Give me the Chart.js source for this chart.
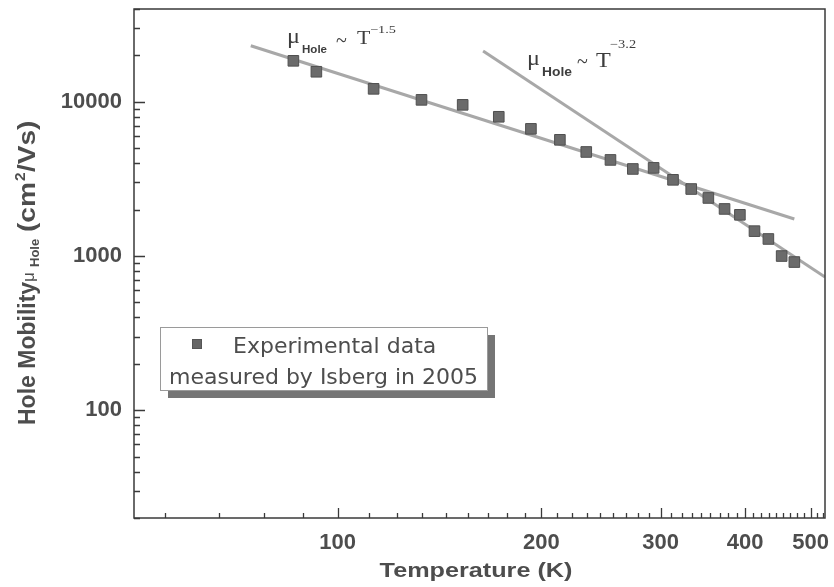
<!DOCTYPE html>
<html>
<head>
<meta charset="utf-8">
<script src="https://cdn.jsdelivr.net/npm/chart.js@4/dist/chart.umd.min.js"></script>
<style>
  html, body { margin: 0; padding: 0; background: #fff; }
  #wrap { width: 834px; height: 587px; }
</style>
</head>
<body>
<div id="wrap"><canvas id="mobility" width="834" height="587"></canvas></div>
<script>
// measured hole mobility (Isberg 2005)
const temps = [86, 93, 113, 133, 153, 173, 193, 213, 233, 253, 273, 293, 313, 333, 353, 373, 393, 413, 433, 453, 473];
const mobility = [18450, 15670, 12140, 10300, 9560, 8000, 6680, 5670, 4730, 4200, 3670, 3730, 3120, 2720, 2380, 2020, 1850, 1450, 1290, 1000, 914];

// the two power-law guide lines (end points)
const fitLowT = [74.4, 473];
const fitLowMu = [23100, 1738];
const fitHighT = [164, 525];
const fitHighMu = [21400, 731];

const xLabels = [100, 200, 300, 400, 500];
const yLabels = [100, 1000, 10000];
const xMin = 50, xMax = 525, yMin = 20, yMax = 40000;

const textGray = '#4d4d4d';
const axisColor = '#3a3a3a';

// Origin-style minor ticks: 8 per major interval
const xTicks = [];
for (let m = 0; m <= 500; m += 100) {
    for (let j = 0; j < 9; j++) {
        const v = m + j * 100 / 9;
        if (v >= xMin && v <= xMax) xTicks.push(v);
    }
}
const yTicks = [];
[10, 100, 1000, 10000].forEach(dec => {
    for (let j = 1; j < 10; j++) {
        const v = dec * j;
        if (v >= yMin && v <= yMax) yTicks.push(v);
    }
});

function isMajor(list, v) {
    return list.some(l => Math.abs(l - v) < 1e-6);
}

const frameAndTicks = {
    id: 'frameAndTicks',
    afterDatasetsDraw(chart) {
        const { ctx, chartArea: a } = chart;
        const xs = chart.scales.x, ys = chart.scales.y;
        ctx.save();
        ctx.strokeStyle = axisColor;
        ctx.lineWidth = 1.5;
        ctx.strokeRect(a.left, a.top, a.right - a.left, a.bottom - a.top);
        ctx.lineWidth = 1.3;
        ctx.beginPath();
        xTicks.forEach(v => {
            const px = Math.round(xs.getPixelForValue(v)) + 0.5;
            const len = isMajor(xLabels, v) ? 10 : 5;
            ctx.moveTo(px, a.bottom);
            ctx.lineTo(px, a.bottom - len);
        });
        yTicks.forEach(v => {
            const py = Math.round(ys.getPixelForValue(v)) + 0.5;
            const len = isMajor(yLabels, v) ? 11 : 6;
            ctx.moveTo(a.left, py);
            ctx.lineTo(a.left + len, py);
        });
        ctx.stroke();
        ctx.restore();
    }
};

// piece: [text, font, x, y, horizontal stretch]
function drawPieces(ctx, pieces) {
    pieces.forEach(p => {
        ctx.save();
        ctx.font = p[1];
        ctx.translate(p[2], p[3]);
        ctx.scale(p[4] || 1, 1);
        ctx.fillText(p[0], 0, 0);
        ctx.restore();
    });
}

const labelsPlugin = {
    id: 'labelsPlugin',
    afterDraw(chart) {
        const ctx = chart.ctx;
        ctx.save();
        ctx.fillStyle = textGray;
        ctx.textBaseline = 'alphabetic';
        ctx.textAlign = 'left';

        // x title
        ctx.save();
        ctx.font = 'bold 21px "Liberation Sans"';
        ctx.textAlign = 'center';
        ctx.translate(476, 577);
        ctx.scale(1.2, 1);
        ctx.fillText('Temperature (K)', 0, 0);
        ctx.restore();

        // y title, rotated; positions measured upward from y = 425
        ctx.save();
        ctx.translate(35, 425);
        ctx.rotate(-Math.PI / 2);
        const sans = '"Liberation Sans"';
        ctx.font = 'bold 23px ' + sans;
        const wCm = ctx.measureText('(cm').width * 1.22;
        drawPieces(ctx, [
            ['Hole Mobility', 'bold 23px ' + sans, 0, 0, 1],
            ['\u03bc', '17px ' + sans, 143, -1, 1],
            ['Hole', 'bold 13px ' + sans, 158, 4, 1],
            ['(cm', 'bold 23px ' + sans, 193, 0, 1.22],
            ['2', 'bold 14px ' + sans, 193 + wCm + 1, -10, 1.1],
            ['/Vs)', 'bold 23px ' + sans, 193 + wCm + 10, 0, 1.22]
        ]);
        ctx.restore();

        // power-law annotations
        ctx.fillStyle = '#3d3d3d';
        const serif = '"Liberation Serif"';
        drawPieces(ctx, [
            ['\u03bc', '21px ' + serif, 287, 43, 1.15],
            ['Hole', 'bold 11px ' + sans, 302, 53, 1.05],
            ['~', '20px ' + serif, 336, 47, 1],
            ['T', '19px ' + serif, 357, 44, 1.15],
            ['\u22121.5', '11px ' + serif, 370, 33, 1.3]
        ]);
        drawPieces(ctx, [
            ['\u03bc', '21px ' + serif, 527, 65, 1.15],
            ['Hole', 'bold 12px ' + sans, 542, 76, 1.15],
            ['~', '20px ' + serif, 577, 68, 1],
            ['T', '22px ' + serif, 596, 67, 1.1],
            ['\u22123.2', '12px ' + serif, 610, 48, 1.2]
        ]);

        // legend box with shadow
        const bx = 160, by = 327, bw = 327, bh = 63;
        ctx.fillStyle = '#757575';
        ctx.fillRect(bx + 8, by + 8, bw, bh);
        ctx.fillStyle = '#fff';
        ctx.fillRect(bx, by, bw, bh);
        ctx.strokeStyle = '#9a9a9a';
        ctx.lineWidth = 1;
        ctx.strokeRect(bx + 0.5, by + 0.5, bw, bh);
        ctx.fillStyle = '#666';
        ctx.fillRect(192, 339, 10, 10);
        ctx.strokeStyle = '#555';
        ctx.strokeRect(192.5, 339.5, 9, 9);
        ctx.fillStyle = textGray;
        ctx.font = '22px "DejaVu Sans"';
        ctx.fillText('Experimental data', 233, 353);
        ctx.fillText('measured by Isberg in 2005', 169, 384);
        ctx.restore();
    }
};

const ctx = document.getElementById('mobility').getContext('2d');
new Chart(ctx, {
    type: 'scatter',
    data: {
        datasets: [
            {
                label: 'Experimental data measured by Isberg in 2005',
                data: temps.map((t, i) => ({ x: t, y: mobility[i] })),
                pointStyle: 'rect',
                pointRadius: 7.5,
                pointBackgroundColor: '#6b6b6b',
                pointBorderColor: '#505050',
                pointBorderWidth: 1,
                order: 0
            },
            {
                label: 'T^-1.5',
                data: fitLowT.map((t, i) => ({ x: t, y: fitLowMu[i] })),
                showLine: true,
                borderColor: '#a8a8a8',
                borderWidth: 3,
                pointRadius: 0,
                order: 1
            },
            {
                label: 'T^-3.2',
                data: fitHighT.map((t, i) => ({ x: t, y: fitHighMu[i] })),
                showLine: true,
                borderColor: '#a8a8a8',
                borderWidth: 3,
                pointRadius: 0,
                order: 1
            }
        ]
    },
    options: {
        responsive: false,
        animation: false,
        layout: { padding: { top: 9, right: 9, left: 0, bottom: 0 } },
        plugins: { legend: { display: false }, tooltip: { enabled: false } },
        scales: {
            x: {
                type: 'logarithmic',
                min: xMin,
                max: xMax,
                afterBuildTicks: s => { s.ticks = xTicks.map(v => ({ value: v })); },
                afterFit: s => { s.height = 69; s.paddingLeft = 0; s.paddingRight = 0; },
                grid: { display: false, drawTicks: false },
                border: { display: false },
                ticks: {
                    autoSkip: false,
                    maxRotation: 0,
                    padding: 12,
                    color: textGray,
                    font: { family: 'Liberation Sans', weight: 'bold', size: 22 },
                    callback: v => isMajor(xLabels, v) ? String(Math.round(v)) : ''
                }
            },
            y: {
                type: 'logarithmic',
                min: yMin,
                max: yMax,
                afterBuildTicks: s => { s.ticks = yTicks.map(v => ({ value: v })); },
                afterFit: s => { s.width = 134; s.paddingTop = 0; s.paddingBottom = 0; },
                grid: { display: false, drawTicks: false },
                border: { display: false },
                ticks: {
                    autoSkip: false,
                    padding: 12,
                    color: textGray,
                    font: { family: 'Liberation Sans', weight: 'bold', size: 22 },
                    callback: v => isMajor(yLabels, v) ? String(v) : ''
                }
            }
        }
    },
    plugins: [frameAndTicks, labelsPlugin]
});
</script>
</body>
</html>
